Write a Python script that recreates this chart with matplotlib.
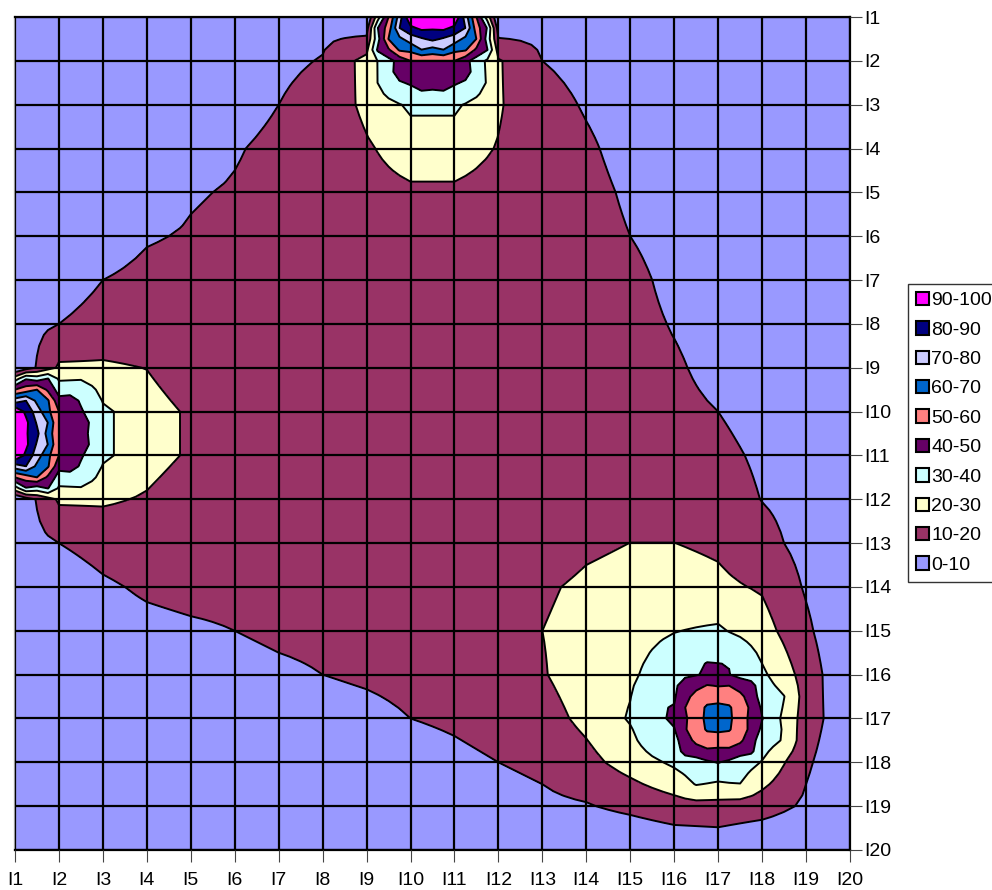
import numpy as np
from matplotlib import pyplot as plt
from matplotlib.patches import Patch

plt.rcParams['font.family'] = ['Liberation Sans', 'DejaVu Sans']

# values per row (I1..I20)
r1 = [1, 1, 1, 1, 1, 1, 3, 7, 0, 100, 100, 0, 7, 3, 1, 1, 1, 1, 1, 1]
r2 = [1, 2, 3, 4, 5, 6.5, 8, 10.5, 23.5, 50, 50, 21, 10, 8, 6, 4, 3, 2, 1, 1]
r3 = [1, 2, 3, 5, 6, 7.5, 10, 14, 22, 32, 32, 21, 12.5, 9.4, 7, 5, 4, 3, 2, 1]
r4 = [1, 2, 4, 6, 7.5, 9.5, 11.5, 13, 19, 24, 24, 19.5, 14, 11, 7.7, 6, 5, 4, 3, 1]
r5 = [1, 3, 5, 7, 9.5, 10.5, 12, 13, 17, 18.7, 18.7, 17, 13.5, 12, 9, 7, 5.5, 4, 3, 1]
r6 = [2, 4, 7, 9.5, 10.5, 11.5, 12, 12.5, 13.5, 15, 15, 13.5, 13, 12.5, 10, 7, 6, 5, 3, 2]
r7 = [3, 6, 10, 11.5, 12, 12, 12, 12, 12.5, 13, 13, 12.5, 12.5, 12.5, 12, 8, 6.5, 5, 4, 2]
r8 = [6, 10, 13, 13, 13, 12.5, 12, 12, 12, 12, 12, 12, 12, 12.5, 12.5, 9.5, 7, 6, 4, 2]
r9 = [0, 21.5, 21.5, 19.8, 14, 13, 12.5, 12, 12, 12, 12, 12, 12, 12, 12, 11, 7.7, 6, 4, 2]
r10 = [100, 50, 32, 24, 18.7, 14, 13, 12.5, 12, 12, 12, 12, 12, 12, 12, 12, 10, 7, 5, 3]
r11 = [100, 50, 32, 24, 18.7, 14, 13, 12.5, 12, 12, 12, 12, 12.5, 13, 13, 13, 12, 8.7, 6, 3]
r12 = [0, 21.5, 21.5, 19, 14, 13, 12.5, 12, 12, 12, 12, 12.5, 13, 14, 15, 15, 14, 9.8, 7, 3]
r13 = [5, 10, 12.5, 14, 14, 13, 12.5, 12, 12, 12, 12, 12.5, 14, 18, 20.05, 20.05, 18.5, 13, 7, 3]
r14 = [2, 6, 9, 11, 12, 12, 12, 12, 12, 12, 12, 12, 18.5, 22, 24, 24, 22, 19, 9, 1]
r15 = [1, 4, 7, 8.1, 9, 10, 11.5, 12, 12, 12.5, 12.5, 13, 20, 23.5, 27, 29.7, 31.5, 24, 12, 0]
r16 = [1, 3, 5, 6, 7, 7, 8.5, 10, 11, 12, 12.5, 13, 19.3, 25, 28.5, 36, 43, 32, 16, 0]
r17 = [0, 1, 3, 4, 5, 5, 6, 7, 8, 10, 11, 12.5, 16, 22.5, 31, 42, 69, 40.5, 15, 2.5]
r18 = [0, 1, 2, 3, 3, 4, 4, 5, 6, 7, 8.5, 10, 12, 17, 24, 32, 40.5, 29.5, 11.5, 2]
r19 = [0, 0, 1, 1, 2, 2, 3, 3, 4, 4, 5, 6, 8, 9.3, 12.5, 16, 16.5, 14.5, 8.5, 1]
r20 = [0, 0, 0, 1, 1, 1, 1, 2, 2, 2, 2, 3, 3, 0, 0, 2, 3, 0, 0, 0]
linhas = [r1, r2, r3, r4, r5, r6, r7, r8, r9, r10, r11, r12, r13, r14, r15, r16, r17, r18, r19, r20]

rotulos = ['I' + str(i) for i in range(1, 21)]
faixas = ['0-10', '10-20', '20-30', '30-40', '40-50', '50-60', '60-70', '70-80', '80-90', '90-100']
cores = ['#9999FF', '#993366', '#FFFFCC', '#CCFFFF', '#660066', '#FF8080', '#0066CC', '#CCCCFF', '#000080', '#FF00FF']
niveis = [0, 10, 20, 30, 40, 50, 60, 70, 80, 90, 100.5]


# the original cuts contours inside each cell; centres near a peak lean to
# the highest corner, which gives the octagons around the peaks
def refinar(Z):
    n = Z.shape[0]
    Zf = np.zeros((2 * n - 1, 2 * n - 1))
    Zf[::2, ::2] = Z
    Zf[1::2, ::2] = (Z[:-1, :] + Z[1:, :]) / 2
    Zf[::2, 1::2] = (Z[:, :-1] + Z[:, 1:]) / 2
    cantos = np.stack([Z[:-1, :-1], Z[1:, :-1], Z[:-1, 1:], Z[1:, 1:]])
    media = cantos.mean(axis=0)
    maior = cantos.max(axis=0)
    Zf[1::2, 1::2] = np.where(maior >= 40, 0.7 * media + 0.3 * maior, media)
    return Zf


Z = np.array(linhas)
x = np.arange(20)
y = np.arange(20)
Zf = refinar(refinar(Z))
xf = np.linspace(0, 19, Zf.shape[1])
yf = np.linspace(0, 19, Zf.shape[0])

fig = plt.figure(figsize=(9.92, 8.90), dpi=100)
ax = fig.add_axes([15 / 992, 1 - 850 / 890, 835 / 992, 833 / 890])

ax.contourf(xf, yf, Zf, levels=niveis, colors=cores)
ax.contour(xf, yf, Zf, levels=niveis[1:-1], colors='black', linewidths=1.4)

ax.set_xlim(0, 19)
ax.set_ylim(19, 0)
ax.set_xticks(x)
ax.set_yticks(y)
ax.set_xticklabels(rotulos, fontsize=14)
ax.set_yticklabels(rotulos, fontsize=14)
ax.yaxis.tick_right()
ax.tick_params(axis='x', length=8.6, width=0.8, color='#444444', pad=7)
ax.tick_params(axis='y', length=8.6, width=0.8, color='#444444', pad=1.5)
ax.grid(True, color='black', linewidth=1.6)
ax.set_axisbelow(False)
for s in ax.spines.values():
    s.set_linewidth(1.6)
ax.spines['left'].set_color('#999999')

# legenda: a ordem e de cima para baixo
caixas = [Patch(facecolor=c, edgecolor='black', linewidth=1.5) for c in cores[::-1]]
leg = fig.legend(caixas, faixas[::-1], loc='upper left', bbox_to_anchor=(908 / 992, 1 - 284 / 890),
                 fontsize=14, fancybox=False, framealpha=1, edgecolor='#333333',
                 handlelength=0.68, handleheight=0.68, handletextpad=0.12,
                 labelspacing=0.612, borderpad=0.4, borderaxespad=0)
leg.get_frame().set_linewidth(1)

fig.savefig('out.png', dpi=100)
